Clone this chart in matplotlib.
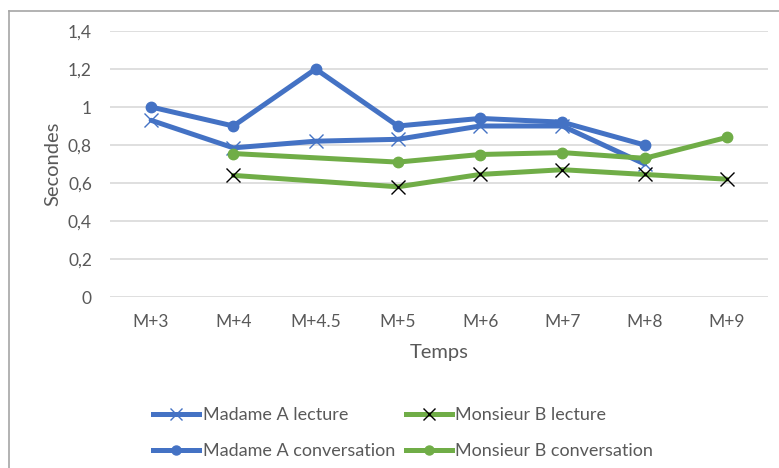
import matplotlib.pyplot as plt
import numpy as np
from matplotlib.lines import Line2D

plt.rcParams['font.family'] = ['Lato', 'DejaVu Sans']

mois = ['M+3', 'M+4', 'M+4.5', 'M+5', 'M+6', 'M+7', 'M+8', 'M+9']
madame_lecture = [0.93, 0.785, 0.82, 0.83, 0.90, 0.90, 0.70, np.nan]
madame_conv = [1.0, 0.90, 1.20, 0.90, 0.94, 0.92, 0.80, np.nan]
monsieur_lecture = [np.nan, 0.64, np.nan, 0.58, 0.645, 0.67, 0.645, 0.62]
monsieur_conv = [np.nan, 0.755, np.nan, 0.71, 0.75, 0.76, 0.73, 0.84]
yticks = [0, 0.2, 0.4, 0.6, 0.8, 1.0, 1.2, 1.4]
ytick_labels = ['0', '0,2', '0,4', '0,6', '0,8', '1', '1,2', '1,4']

blue = '#4472C4'
green = '#70AD47'
grey = '#595959'

fig = plt.figure(figsize=(7.79, 4.68), dpi=100)
ax = fig.add_axes([110/779, 1-297/468, 658/779, 266/468])

x = np.arange(len(mois))

def draw(vals, color, marker, mcol, ms, mew):
    v = np.array(vals, dtype=float)
    ok = ~np.isnan(v)
    ax.plot(x[ok], v[ok], color=color, lw=3.6, solid_capstyle='round',
            marker=marker, markersize=ms, markerfacecolor=mcol,
            markeredgecolor=mcol, markeredgewidth=mew, zorder=3)

draw(madame_lecture, blue, 'x', blue, 9.5, 1.0)
draw(madame_conv, blue, 'o', blue, 7.5, 1.0)
draw(monsieur_lecture, green, 'x', 'black', 9.5, 1.0)
draw(monsieur_conv, green, 'o', green, 7.5, 1.0)

ax.set_xlim(-0.5, len(mois) - 0.5)
ax.set_ylim(0, 1.4)
ax.set_yticks(yticks)
ax.set_yticklabels(ytick_labels)
ax.set_xticks(x)
ax.set_xticklabels(mois)
ax.grid(axis='y', color='#D9D9D9', lw=1.2)
ax.set_axisbelow(True)
for s in ax.spines.values():
    s.set_visible(False)
ax.tick_params(length=0, labelsize=12.5, colors=grey)
ax.tick_params(axis='y', pad=13)
ax.tick_params(axis='x', pad=12)

ax.set_xlabel('Temps', fontsize=14.5, color=grey, labelpad=10)
ax.set_ylabel('Secondes', fontsize=14.5, color=grey, labelpad=5)

# chart area border (left and top visible)
fig.add_artist(Line2D([9/779, 9/779], [0, 1-11/468], color='#A6A6A6', lw=1.2))
fig.add_artist(Line2D([9/779, 1], [1-11/468, 1-11/468], color='#A6A6A6', lw=1.2))

handles = [
    Line2D([], [], color=blue, lw=3.6, marker='x', ms=8, mec=blue, mew=1.0),
    Line2D([], [], color=blue, lw=3.6, marker='o', ms=6.5, mec=blue, mfc=blue),
    Line2D([], [], color=green, lw=3.6, marker='x', ms=8, mec='black', mew=1.0),
    Line2D([], [], color=green, lw=3.6, marker='o', ms=6.5, mec=green, mfc=green),
]
labels = ['Madame A lecture', 'Madame A conversation',
          'Monsieur B lecture', 'Monsieur B conversation']
leg = fig.legend(handles, labels, ncol=2, loc='center', bbox_to_anchor=(403/779, 1-433/468),
                 frameon=False, fontsize=13, handlelength=2.55, handletextpad=0.17,
                 columnspacing=0.6, labelspacing=1.1, labelcolor=grey,
                 borderpad=0, borderaxespad=0)

fig.savefig('out.png', dpi=100)
